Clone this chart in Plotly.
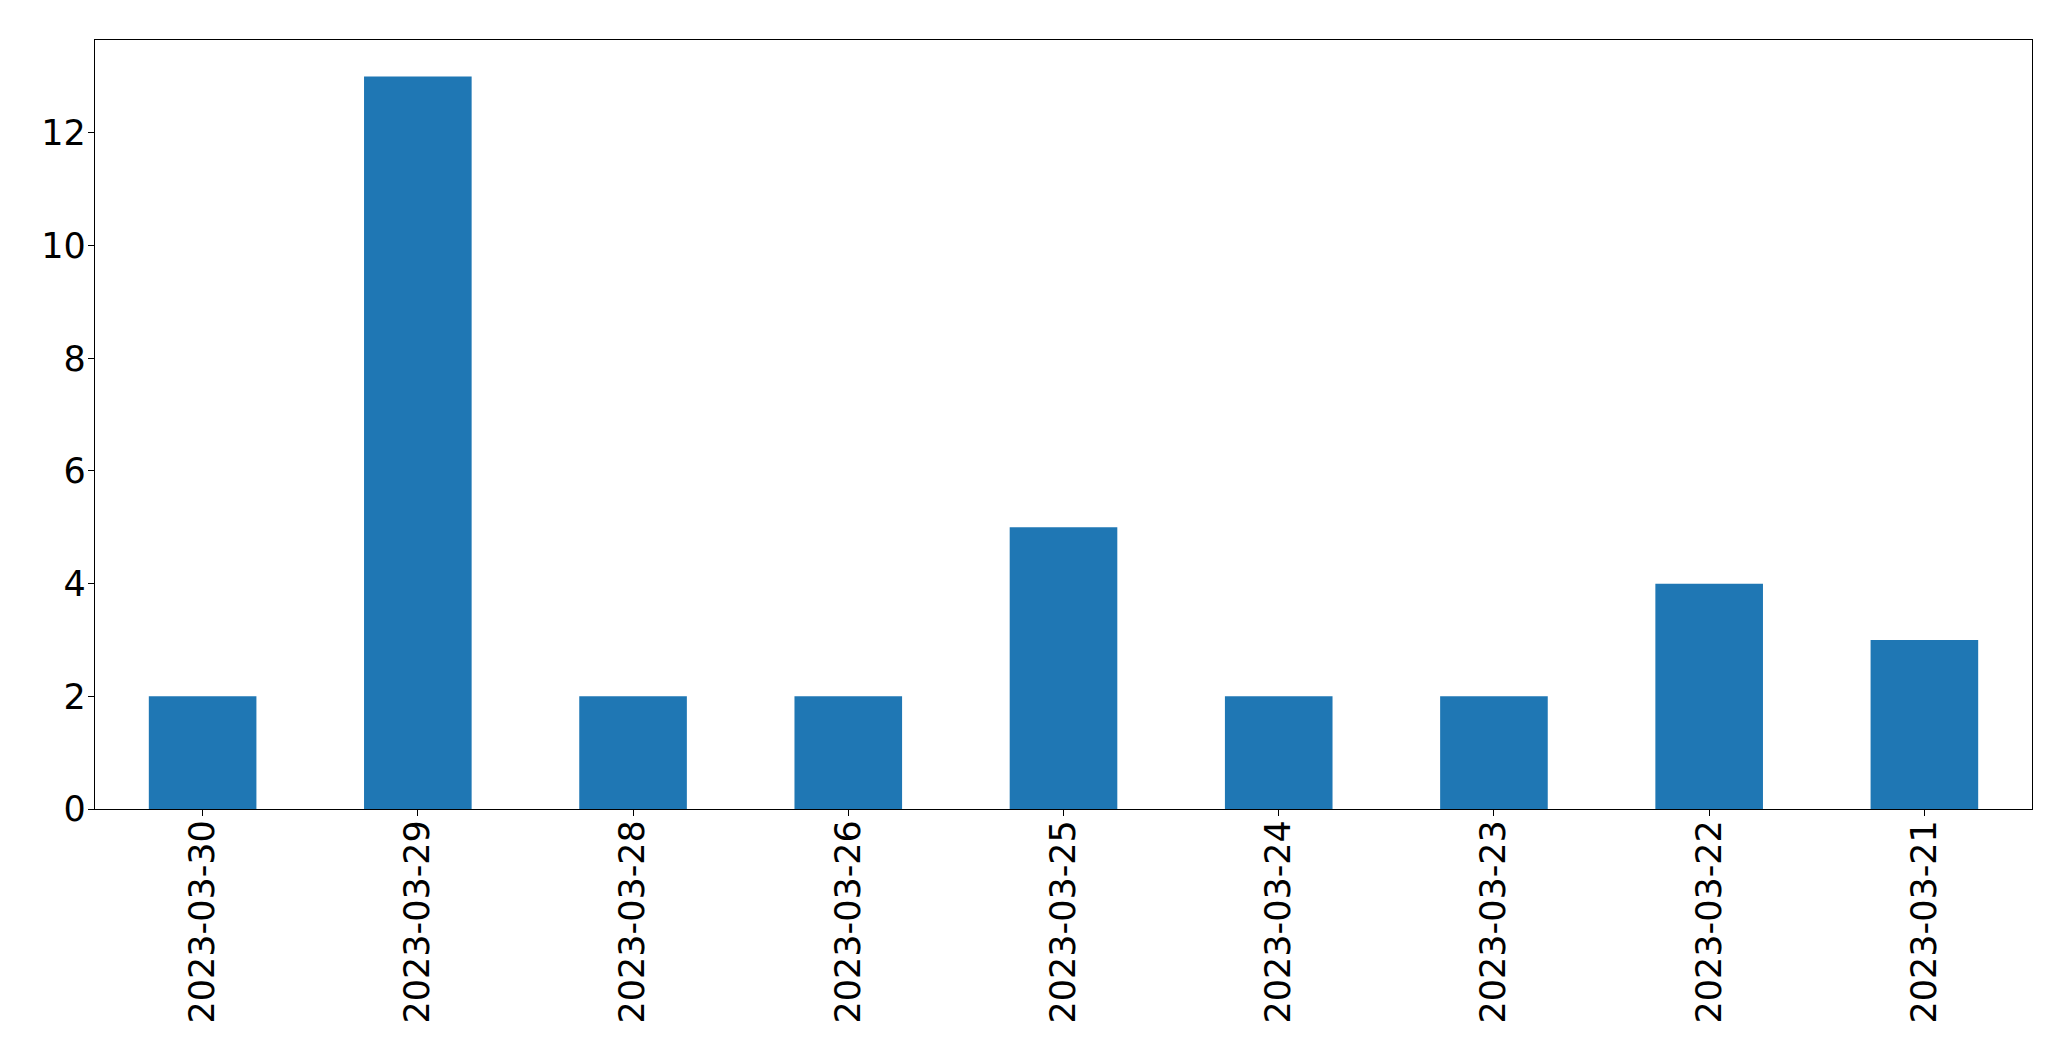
import plotly.graph_objects as go

categories = ["2023-03-30", "2023-03-29", "2023-03-28", "2023-03-26", "2023-03-25",
              "2023-03-24", "2023-03-23", "2023-03-22", "2023-03-21"]
values = [2, 13, 2, 2, 5, 2, 2, 4, 3]
y_ticks = [0, 2, 4, 6, 8, 10, 12]

fig = go.Figure(go.Bar(x=categories, y=values, marker_color="#1f77b4",
                       marker_line_width=0, width=0.5))

font = dict(family="DejaVu Sans", size=35, color="black")
# the page body has an 8px margin, so the figure is offset by 8px
fig.update_layout(
    width=2063, height=1053,
    margin=dict(l=87, r=39, t=32, b=252),
    plot_bgcolor="white", paper_bgcolor="white",
    showlegend=False, font=font, bargap=0.5,
)
fig.update_xaxes(type="category", range=[-0.5, 8.5], tickangle=-90,
                 showline=True, linecolor="black", linewidth=1.3, mirror=True,
                 ticks="outside", ticklen=6, tickcolor="black", tickwidth=1.3,
                 showgrid=False, tickfont=font, ticklabelstandoff=-10, automargin=False)
fig.update_yaxes(range=[0, 13.65], tickvals=y_ticks,
                 showline=True, linecolor="black", linewidth=1.3, mirror=True,
                 ticks="outside", ticklen=6, tickcolor="black", tickwidth=1.3,
                 showgrid=False, zeroline=False, tickfont=font, ticklabelstandoff=-5,
                 automargin=False)

fig.write_html("out.html")
